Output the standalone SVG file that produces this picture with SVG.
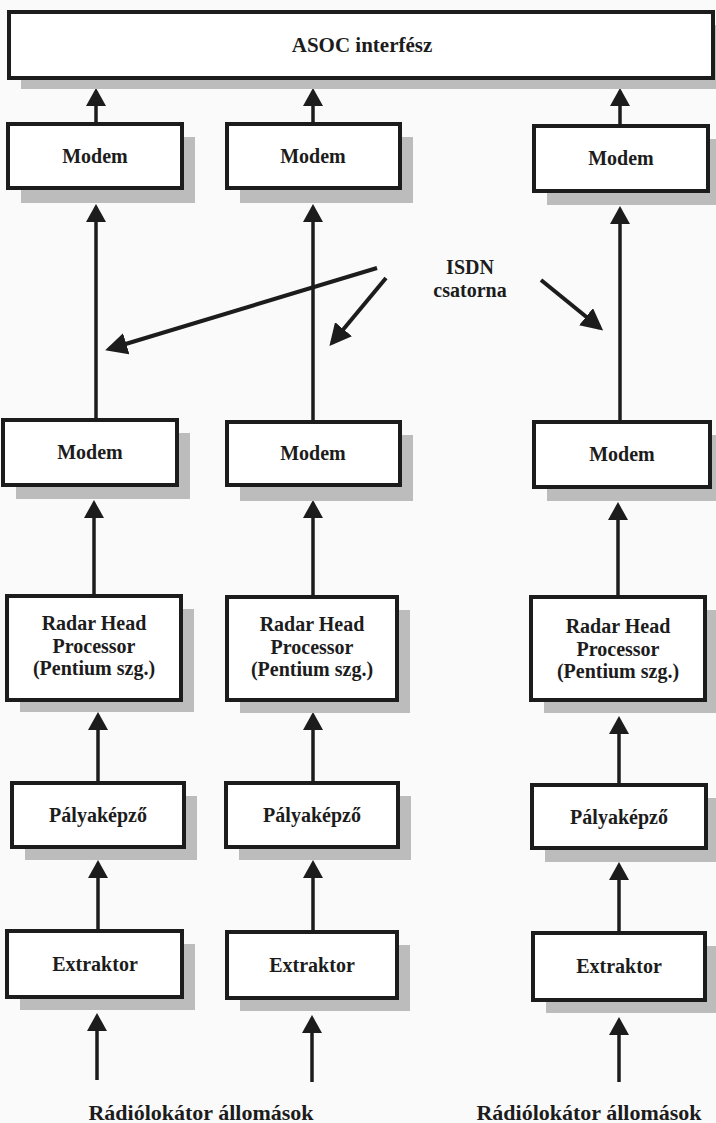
<svg xmlns="http://www.w3.org/2000/svg" width="716" height="1123" viewBox="0 0 716 1123">
<style>
.bg{fill:#fafafa}
.box{fill:#ffffff;stroke:#1c1c1c;stroke-width:4}
.sh{fill:#bcbcbc}
.t{font-family:"Liberation Serif","Times New Roman",serif;font-weight:bold;font-size:20px;fill:#1c1c1c;text-anchor:middle}
.big{font-size:21px}
.lbl{font-size:22px}
.c{stroke:#1c1c1c;stroke-width:3.5;fill:none;marker-end:url(#ah)}
.d{stroke:#1c1c1c;stroke-width:4;fill:none;marker-end:url(#ah2)}
</style>
<defs>
<marker id="ah" viewBox="0 0 18 20" refX="14" refY="10" markerWidth="18" markerHeight="20" markerUnits="userSpaceOnUse" orient="auto">
<path d="M0,0 L18,10 L0,20 z" fill="#1c1c1c"/>
</marker>
<marker id="ah2" viewBox="0 0 22 22" refX="18" refY="11" markerWidth="22" markerHeight="22" markerUnits="userSpaceOnUse" orient="auto">
<path d="M0,0 L22,11 L0,22 z" fill="#1c1c1c"/>
</marker>
</defs>
<rect class="bg" x="0" y="0" width="716" height="1123"/>

<g id="connectors">
<!-- to ASOC -->
<line class="c" x1="96" y1="124" x2="96" y2="92"/>
<line class="c" x1="313" y1="124" x2="313" y2="92"/>
<line class="c" x1="620" y1="126" x2="620" y2="92"/>
<!-- Modem2 -> Modem1 -->
<line class="c" x1="96" y1="420" x2="96" y2="208"/>
<line class="c" x1="313" y1="420" x2="313" y2="208"/>
<line class="c" x1="620" y1="420" x2="620" y2="210"/>
<!-- Radar -> Modem2 -->
<line class="c" x1="94" y1="596" x2="94" y2="504"/>
<line class="c" x1="313" y1="596" x2="313" y2="504"/>
<line class="c" x1="618" y1="596" x2="618" y2="506"/>
<!-- Palya -> Radar -->
<line class="c" x1="98" y1="783" x2="98" y2="716"/>
<line class="c" x1="313" y1="783" x2="313" y2="716"/>
<line class="c" x1="619" y1="783" x2="619" y2="720"/>
<!-- Extraktor -> Palya -->
<line class="c" x1="98" y1="931" x2="98" y2="864"/>
<line class="c" x1="313" y1="931" x2="313" y2="864"/>
<line class="c" x1="619" y1="933" x2="619" y2="866"/>
<!-- input -> Extraktor -->
<line class="c" x1="97" y1="1080" x2="97" y2="1017"/>
<line class="c" x1="312" y1="1082" x2="312" y2="1019"/>
<line class="c" x1="619" y1="1082" x2="619" y2="1021"/>
<!-- ISDN -->
<line class="d" x1="377" y1="268" x2="109" y2="349"/>
<line class="d" x1="386" y1="278" x2="332" y2="343"/>
<line class="d" x1="541" y1="280" x2="600" y2="328"/>
</g>

<g id="asoc">
<rect class="sh" x="21" y="25" width="704" height="64"/>
<rect class="box" x="9" y="12" width="704" height="66"/>
<text class="t big" x="362" y="52">ASOC interfész</text>
</g>

<g id="modem1a">
<rect class="sh" x="21" y="137" width="174" height="66"/>
<rect class="box" x="8" y="124" width="174" height="64"/>
<text class="t" x="95" y="163">Modem</text>
</g>
<g id="modem1b">
<rect class="sh" x="240" y="137" width="173" height="66"/>
<rect class="box" x="227" y="124" width="173" height="64"/>
<text class="t" x="313" y="163">Modem</text>
</g>
<g id="modem1c">
<rect class="sh" x="547" y="139" width="174" height="66"/>
<rect class="box" x="534" y="126" width="174" height="65"/>
<text class="t" x="621" y="165">Modem</text>
</g>

<g id="isdn">
<text class="t" x="470" y="274">ISDN</text>
<text class="t" x="470" y="297">csatorna</text>
</g>

<g id="modem2a">
<rect class="sh" x="16" y="433" width="174" height="66"/>
<rect class="box" x="3" y="420" width="174" height="65"/>
<text class="t" x="90" y="459">Modem</text>
</g>
<g id="modem2b">
<rect class="sh" x="240" y="435" width="173" height="66"/>
<rect class="box" x="227" y="422" width="173" height="63"/>
<text class="t" x="313" y="460">Modem</text>
</g>
<g id="modem2c">
<rect class="sh" x="547" y="435" width="178" height="66"/>
<rect class="box" x="534" y="422" width="176" height="65"/>
<text class="t" x="622" y="461">Modem</text>
</g>

<g id="rhp_a">
<rect class="sh" x="20" y="609" width="174" height="103"/>
<rect class="box" x="7" y="596" width="174" height="104"/>
<text class="t" x="94" y="630">Radar Head</text>
<text class="t" x="94" y="653">Processor</text>
<text class="t" x="94" y="675">(Pentium szg.)</text>
</g>
<g id="rhp_b">
<rect class="sh" x="240" y="610" width="170" height="103"/>
<rect class="box" x="227" y="597" width="170" height="103"/>
<text class="t" x="312" y="631">Radar Head</text>
<text class="t" x="312" y="654">Processor</text>
<text class="t" x="312" y="676">(Pentium szg.)</text>
</g>
<g id="rhp_c">
<rect class="sh" x="544" y="610" width="174" height="103"/>
<rect class="box" x="531" y="597" width="174" height="103"/>
<text class="t" x="618" y="633">Radar Head</text>
<text class="t" x="618" y="656">Processor</text>
<text class="t" x="618" y="678">(Pentium szg.)</text>
</g>

<g id="palya_a">
<rect class="sh" x="25" y="796" width="172" height="64"/>
<rect class="box" x="12" y="783" width="172" height="64"/>
<text class="t" x="98" y="822">Pályaképző</text>
</g>
<g id="palya_b">
<rect class="sh" x="239" y="796" width="172" height="64"/>
<rect class="box" x="226" y="783" width="172" height="64"/>
<text class="t" x="312" y="822">Pályaképző</text>
</g>
<g id="palya_c">
<rect class="sh" x="545" y="798" width="174" height="64"/>
<rect class="box" x="532" y="785" width="174" height="63"/>
<text class="t" x="619" y="824">Pályaképző</text>
</g>

<g id="extr_a">
<rect class="sh" x="20" y="944" width="175" height="66"/>
<rect class="box" x="7" y="931" width="175" height="66"/>
<text class="t" x="95" y="971">Extraktor</text>
</g>
<g id="extr_b">
<rect class="sh" x="240" y="945" width="170" height="66"/>
<rect class="box" x="227" y="932" width="170" height="66"/>
<text class="t" x="312" y="972">Extraktor</text>
</g>
<g id="extr_c">
<rect class="sh" x="546" y="946" width="172" height="67"/>
<rect class="box" x="533" y="933" width="172" height="67"/>
<text class="t" x="619" y="973">Extraktor</text>
</g>

<g id="radio_a">
<text class="t lbl" x="201" y="1120">Rádiólokátor állomások</text>
</g>
<g id="radio_b">
<text class="t lbl" x="589" y="1120">Rádiólokátor állomások</text>
</g>
</svg>
